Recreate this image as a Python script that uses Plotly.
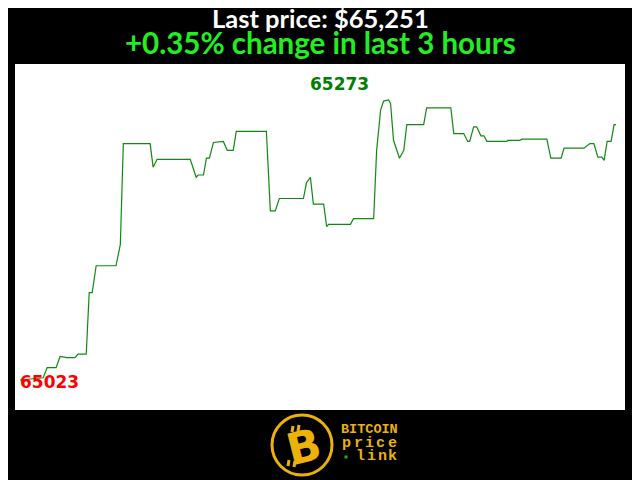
import plotly.graph_objects as go

# Price over the last 3 hours (minutes since start, USD)
minutes = [0, 7.0, 8.2, 10.9, 12.1, 14.2, 16.6, 17.5, 20.0, 20.9, 21.8, 23.0, 29.0, 30.3,
           31.2, 39.3, 40.2, 41.4, 51.4, 53.2, 53.8, 55.4, 56.3, 57.2, 58.4, 61.4, 62.6,
           64.4, 65.3, 74.4, 75.6, 77.1, 78.3, 85.6, 86.5, 87.7, 88.6, 91.7, 92.6, 93.2,
           99.8, 100.7, 106.8, 107.7, 108.9, 109.8, 111.3, 111.9, 112.8, 114.0, 114.6,
           115.9, 116.8, 121.9, 122.8, 130.1, 131.0, 134.0, 135.2, 135.8, 137.0, 137.9,
           139.2, 140.1, 141.0, 147.0, 147.3, 150.9, 151.6, 159.1, 160.3, 163.4, 164.3,
           170.3, 172.1, 173.3, 174.5, 175.7, 176.4, 177.3, 178.5, 179.4, 180.0]
prices = [65023, 65025, 65034, 65034, 65044, 65043, 65043, 65046, 65046, 65101, 65101,
          65125, 65125, 65144, 65234, 65234, 65213, 65220, 65220, 65204, 65206, 65206,
          65221, 65221, 65235, 65236, 65228, 65228, 65245, 65245, 65174, 65174, 65185,
          65185, 65199, 65204, 65180, 65180, 65160, 65162, 65162, 65167, 65167, 65228,
          65264, 65272, 65273, 65270, 65237, 65227, 65221, 65228, 65251, 65251, 65266,
          65266, 65243, 65243, 65236, 65236, 65249, 65249, 65241, 65241, 65236, 65236,
          65237, 65237, 65238, 65238, 65221, 65221, 65230, 65230, 65234, 65234, 65222,
          65222, 65219, 65236, 65236, 65251, 65251]

last_price = 65251
change_pct = 0.35
low_label = "65023"
high_label = "65273"

GOLD = "#ecb20a"

fig = go.Figure()
fig.add_trace(go.Scatter(x=minutes, y=prices, mode="lines",
                         line=dict(color="#118811", width=1.2), hoverinfo="skip"))

# min / max labels
fig.add_annotation(x=0, y=min(prices), text="<b>%s</b>" % low_label, showarrow=False,
                   xanchor="left", yanchor="middle", yshift=-2, xshift=-2,
                   font=dict(family="DejaVu Sans", size=17, color="#ff0000"))
fig.add_annotation(x=96.5, y=max(prices), text="<b>%s</b>" % high_label, showarrow=False,
                   xanchor="center", yanchor="bottom", yshift=4,
                   font=dict(family="DejaVu Sans", size=17, color="#008000"))

# headline text
fig.add_annotation(x=0.5, y=1.134, xref="paper", yref="paper", showarrow=False,
                   xanchor="center", yanchor="middle",
                   text="<b>Last price: $%s</b>" % format(last_price, ","),
                   font=dict(family="Lato", size=25.5, color="white"))
fig.add_annotation(x=0.5, y=1.061, xref="paper", yref="paper", showarrow=False,
                   xanchor="center", yanchor="middle",
                   text="<b>+%.2f%% change in last 3 hours</b>" % change_pct,
                   font=dict(family="Lato", size=29.5, color="#22ee22"))

# logo: ring + tilted B with bitcoin strokes
LX, LY = 0.4705, -0.1012
fig.add_shape(type="circle", xref="paper", yref="paper", xsizemode="pixel", ysizemode="pixel",
              xanchor=LX, yanchor=LY, x0=-30, x1=30, y0=-30, y1=30,
              line=dict(color=GOLD, width=3))
fig.add_annotation(x=LX, y=LY, xref="paper", yref="paper", showarrow=False,
                   xanchor="center", yanchor="middle",
                   text="<b>B</b>", textangle=-14, xshift=2, yshift=-1,
                   font=dict(family="DejaVu Sans", size=44, color=GOLD))
for dx0, dy0, dx1, dy1 in [(-10, 13, -9, 19), (-4, 14, -3, 20), (-13, -15, -14, -21), (-7, -16, -8, -22)]:
    fig.add_shape(type="line", xref="paper", yref="paper", xsizemode="pixel", ysizemode="pixel",
                  xanchor=LX, yanchor=LY, x0=dx0, y0=dy0, x1=dx1, y1=dy1,
                  line=dict(color=GOLD, width=3))

# wordmark
fig.add_annotation(x=0.532, y=-0.0578, xref="paper", yref="paper", showarrow=False,
                   xanchor="left", yanchor="middle", xshift=-1, text="<b>BITCOIN</b>",
                   font=dict(family="Liberation Mono", size=13.5, color=GOLD))
for i, ch in enumerate("price"):
    fig.add_annotation(x=0.532, y=-0.0960, xref="paper", yref="paper", showarrow=False,
                       xanchor="center", yanchor="middle", xshift=1.5 + 11.4 * (i + 0.5),
                       text="<b>%s</b>" % ch,
                       font=dict(family="Liberation Mono", size=15, color=GOLD))
for i, ch in enumerate("link"):
    fig.add_annotation(x=0.532, y=-0.1358, xref="paper", yref="paper", showarrow=False,
                       xanchor="center", yanchor="middle", xshift=15.5 + 10.8 * (i + 0.5),
                       text="<b>%s</b>" % ch,
                       font=dict(family="Liberation Mono", size=15, color=GOLD))
fig.add_shape(type="rect", xref="paper", yref="paper", xsizemode="pixel", ysizemode="pixel",
              xanchor=0.5426, yanchor=-0.1358, x0=-1.5, x1=1.5, y0=-1.5, y1=1.5,
              fillcolor="#22aa22", line=dict(width=0))

# the page puts the figure 8px in from the corner, so margins are shifted to compensate
fig.update_xaxes(visible=False, range=[-1.51, 182.7])
fig.update_yaxes(visible=False, range=[64996.2, 65305.1])
fig.update_layout(width=640, height=480, showlegend=False,
                  paper_bgcolor="black", plot_bgcolor="white",
                  margin=dict(l=7, r=23, t=56, b=78))

fig.write_html("out.html")
